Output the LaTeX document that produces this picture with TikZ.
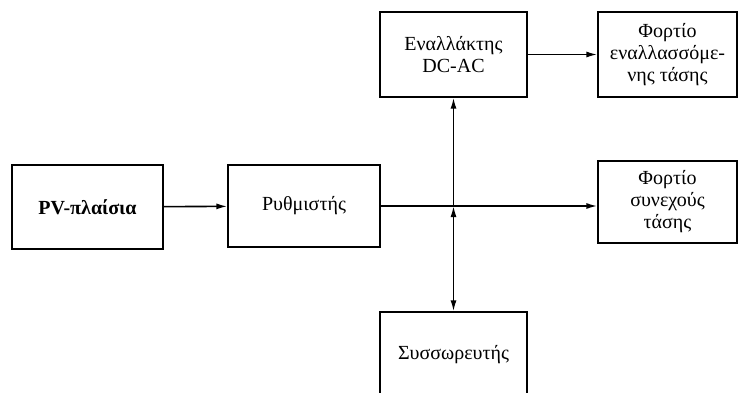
\documentclass[tikz,border=0pt]{standalone}
\usepackage{fontspec}
\setmainfont{Liberation Serif}
\usetikzlibrary{shapes,arrows,arrows.meta}
\tikzstyle{block} = [rectangle, draw, line width=1.3pt,
    align=center, minimum width=151pt, minimum height=84pt,
    font=\fontsize{20}{22}\selectfont]
\tikzstyle{line} = [draw, line width=1.6pt, -{Latex[length=11pt,width=6pt]}]

\begin{document}
\begin{tikzpicture}[x=1pt, y=-1pt]
    \clip (0,0) rectangle (739,393);
    \node (b1) [block] at (87.5,207) {\textbf{PV-πλαίσια}};
    \node (b2) [block, minimum width=152pt, minimum height=82pt] at (304,206) {Ρυθμιστής};
    \node (b3) [block, minimum width=147pt, minimum height=85pt] at (453.5,54.5) {Εναλλάκτης\\DC-AC};
    \node (b4) [block, minimum width=139pt, minimum height=85pt] at (667.5,54.5) {Φορτίο\\εναλλασσόμε-\\νης τάσης};
    \node (b5) [block, minimum width=139pt, minimum height=82pt] at (667.5,202) {Φορτίο\\συνεχούς\\τάσης};

    % battery sits below, cut off by the page
    \node (c1) [block, minimum width=147pt, minimum height=85pt] at (453.5,354.5) {Συσσωρευτής};

    \coordinate (j) at (b3.south |- b2.east);

    \draw [line] (b1) -- (b2);
    \draw [line] (b3) -- (b4);
    \draw [line] (b2.east) -- (b2.east -| b5.west);
    \draw [line] (j) -- (b3.south);
    \draw [line, {Latex[length=11pt,width=6pt]}-{Latex[length=11pt,width=6pt]}] (j) -- (c1.north);
\end{tikzpicture}
\end{document}
